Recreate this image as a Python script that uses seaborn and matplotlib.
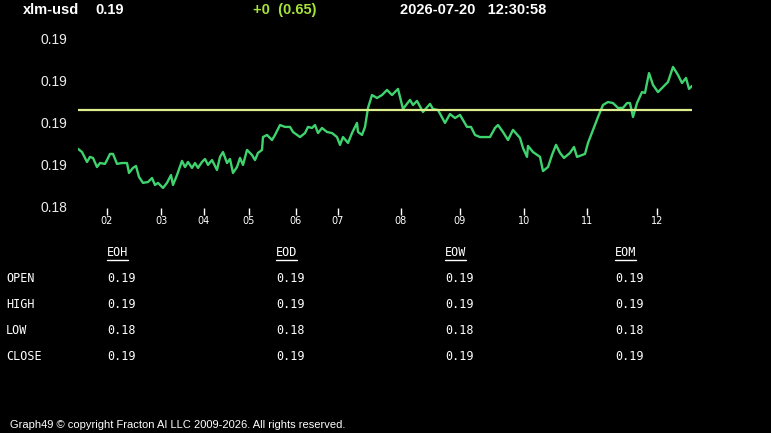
import pandas as pd
import seaborn as sns
import matplotlib.pyplot as plt
import numpy as np

# header
symbol = 'xlm-usd'
last_price = 0.19
change_txt = '+0  (0.65)'
stamp = '2026-07-20   12:30:58'

# sample position (time steps) and price
t = [0, 4, 9, 12, 15, 19, 22, 27, 29, 32, 35, 39, 44, 49, 51, 55, 58, 61, 65, 70,
     74, 77, 80, 85, 89, 93, 95, 99, 104, 107, 110, 114, 117, 120, 124, 127, 130, 134, 139, 142,
     145, 149, 152, 155, 159, 162, 165, 169, 174, 177, 180, 184, 185, 189, 194, 197, 202, 207, 212, 215,
     222, 227, 230, 234, 237, 240, 244, 249, 254, 259, 262, 265, 270, 274, 279, 280, 284, 287, 290, 294,
     299, 304, 309, 314, 320, 325, 332, 335, 339, 345, 352, 355, 360, 367, 372, 377, 382, 389, 393, 397,
     402, 412, 417, 420, 425, 430, 435, 442, 445, 449, 450, 455, 462, 465, 470, 474, 478, 482, 486, 492,
     496, 499, 504, 507, 510, 515, 520, 525, 530, 535, 540, 545, 549, 552, 555, 559, 564, 567, 571, 575,
     580, 585, 590, 595, 600, 604, 608, 611, 614]
price = [0.18675, 0.18660, 0.18613, 0.18637, 0.18632, 0.18589, 0.18608, 0.18604, 0.18622, 0.18651,
         0.18651, 0.18604, 0.18608, 0.18608, 0.18561, 0.18585, 0.18594, 0.18542, 0.18514, 0.18518,
         0.18537, 0.18504, 0.18514, 0.18490, 0.18514, 0.18551, 0.18504, 0.18551, 0.18618, 0.18589,
         0.18613, 0.18585, 0.18608, 0.18585, 0.18613, 0.18627, 0.18599, 0.18622, 0.18575, 0.18637,
         0.18660, 0.18608, 0.18627, 0.18561, 0.18589, 0.18632, 0.18599, 0.18670, 0.18646, 0.18622,
         0.18656, 0.18670, 0.18731, 0.18741, 0.18717, 0.18741, 0.18788, 0.18779, 0.18779, 0.18755,
         0.18731, 0.18750, 0.18779, 0.18774, 0.18788, 0.18750, 0.18774, 0.18755, 0.18750, 0.18731,
         0.18694, 0.18731, 0.18703, 0.18750, 0.18798, 0.18755, 0.18741, 0.18779, 0.18869, 0.18930,
         0.18916, 0.18930, 0.18954, 0.18930, 0.18959, 0.18864, 0.18907, 0.18883, 0.18902, 0.18850,
         0.18888, 0.18864, 0.18859, 0.18798, 0.18840, 0.18821, 0.18836, 0.18779, 0.18779, 0.18741,
         0.18731, 0.18731, 0.18774, 0.18788, 0.18755, 0.18717, 0.18765, 0.18727, 0.18679, 0.18637,
         0.18689, 0.18660, 0.18637, 0.18570, 0.18589, 0.18646, 0.18694, 0.18656, 0.18632, 0.18656,
         0.18684, 0.18637, 0.18646, 0.18651, 0.18703, 0.18765, 0.18826, 0.18883, 0.18897, 0.18892,
         0.18869, 0.18869, 0.18892, 0.18892, 0.18826, 0.18892, 0.18944, 0.18940, 0.19034, 0.18978,
         0.18944, 0.18968, 0.18992, 0.19063, 0.19025, 0.18987, 0.19011, 0.18959, 0.18973]
ref_level = 0.18859

hour_pos = [29, 83, 126, 171, 218, 260, 323, 382, 446, 509, 579]
hour_lbl = ['02', '03', '04', '05', '06', '07', '08', '09', '10', '11', '12']
y_ticks = [0.184, 0.186, 0.188, 0.190, 0.192]

# summary table
cols = ['EOH', 'EOD', 'EOW', 'EOM']
rows = ['OPEN', 'HIGH', 'LOW', 'CLOSE']
table_vals = [[0.19, 0.19, 0.19, 0.19],
              [0.19, 0.19, 0.19, 0.19],
              [0.18, 0.18, 0.18, 0.18],
              [0.19, 0.19, 0.19, 0.19]]
footer = 'Graph49 \u00a9 copyright Fracton AI LLC 2009-2026. All rights reserved.'

sns.set_style('dark', {'axes.facecolor': 'black', 'figure.facecolor': 'black'})
plt.rcParams['font.family'] = ['Liberation Sans', 'DejaVu Sans']

df = pd.DataFrame({'t': t, 'price': price})

fig = plt.figure(figsize=(7.71, 4.33), dpi=100)
W, H = 771, 433
ax = fig.add_axes([78 / W, 1 - 208 / H, (692 - 78) / W, (208 - 30) / H])
ax.set_facecolor('black')

sns.lineplot(data=df, x='t', y='price', ax=ax, color='#3fd36f', linewidth=1.7)
ax.axhline(ref_level, color='#dcef8c', linewidth=1.6)

ax.set_xlim(0, 614)
ax.set_ylim(0.18395, 0.19238)
ax.set_xticks(hour_pos)
ax.set_xticklabels(hour_lbl, fontsize=7, color='white', family=['DejaVu Sans'])
ax.set_yticks(y_ticks)
ax.set_yticklabels(['%.2f' % v for v in y_ticks], fontsize=10, color='#ececec')
ax.tick_params(axis='x', colors='white', length=5, width=1, pad=1, direction='out', bottom=True)
ax.tick_params(axis='y', length=0, pad=8)
ax.set_xlabel('')
ax.set_ylabel('')
ax.grid(False)
for s in ax.spines.values():
    s.set_visible(False)

# header line
fig.text(23 / W, 1 - 10 / H, symbol, color='white', fontsize=10.5, fontweight='bold', va='center')
fig.text(95 / W, 1 - 10 / H, '%.2f' % last_price, color='white', fontsize=10.5, fontweight='bold', va='center')
fig.text(253 / W, 1 - 10 / H, change_txt, color='#a6e23a', fontsize=10.5, fontweight='bold', va='center')
fig.text(400 / W, 1 - 10 / H, stamp, color='white', fontsize=10.5, fontweight='bold', va='center')

# table
col_x = [107, 276, 445, 615]
mono = ['DejaVu Sans Mono']
heads = []
for j, c in enumerate(cols):
    heads.append(fig.text(col_x[j] / W, 1 - 252 / H, c, color='white', fontsize=8.5, va='center', family=mono))
row_y = [279, 304, 330, 356]
for i, r in enumerate(rows):
    fig.text(6 / W, 1 - row_y[i] / H, r, color='white', fontsize=8.5, va='center', family=mono)
    for j in range(len(cols)):
        fig.text(col_x[j] / W, 1 - row_y[i] / H, '%.2f' % table_vals[i][j], color='white',
                 fontsize=8.5, va='center', family=mono)

# underline the column headers
fig.canvas.draw()
inv = fig.transFigure.inverted()
for h in heads:
    bb = h.get_window_extent()
    (x0, y0), (x1, _) = inv.transform([[bb.x0, bb.y0], [bb.x1, bb.y1]])
    fig.add_artist(plt.Line2D([x0, x1], [y0 - 1.5 / H, y0 - 1.5 / H], color='white', linewidth=1,
                              transform=fig.transFigure))

fig.text(10 / W, 1 - 425 / H, footer, color='white', fontsize=8, va='center')

fig.savefig('out.png', dpi=100, facecolor='black')
